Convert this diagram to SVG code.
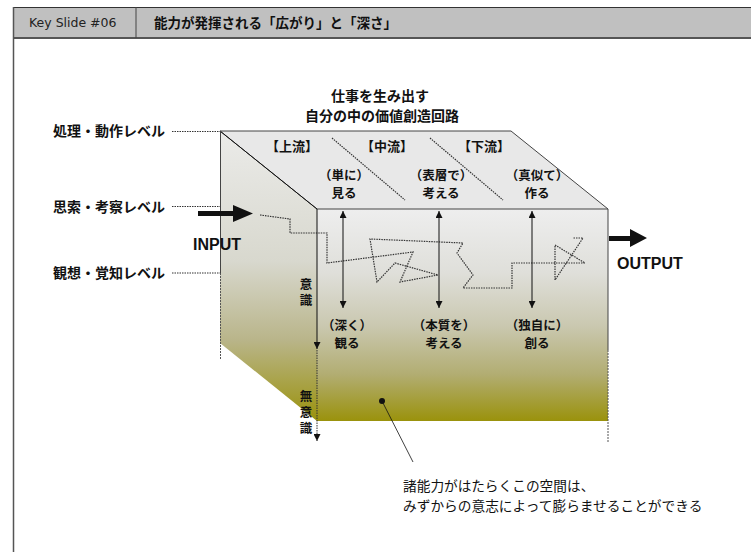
<svg xmlns="http://www.w3.org/2000/svg" width="751" height="552" viewBox="0 0 751 552">
<style>
.jp{font-family:"Liberation Sans","Noto Sans CJK JP",sans-serif;fill:#111}
.b{font-weight:bold}
.dot{fill:none;stroke:#333;stroke-width:1.2;stroke-dasharray:1.5 1}
.edge{fill:none;stroke:#444;stroke-width:1}
.ln{fill:none;stroke:#111;stroke-width:1}
</style>
<defs>
<linearGradient id="gFront" gradientUnits="userSpaceOnUse" x1="0" y1="209" x2="0" y2="421">
<stop offset="0" stop-color="#eeeeee"/>
<stop offset="0.3" stop-color="#dfdfda"/>
<stop offset="0.55" stop-color="#cac8b0"/>
<stop offset="0.78" stop-color="#b2ad72"/>
<stop offset="1" stop-color="#9a920c"/>
</linearGradient>
<linearGradient id="gLeft" gradientUnits="userSpaceOnUse" x1="0" y1="131" x2="0" y2="421">
<stop offset="0" stop-color="#ebebe9"/>
<stop offset="0.45" stop-color="#d8d8ce"/>
<stop offset="0.72" stop-color="#b9b58a"/>
<stop offset="1" stop-color="#9a920c"/>
</linearGradient>
<marker id="ah" viewBox="0 0 10 10" refX="10" refY="5" markerWidth="7" markerHeight="7" orient="auto-start-reverse" markerUnits="userSpaceOnUse">
<path d="M0,0 L10,5 L0,10 z" fill="#111"/>
</marker>
</defs>

<g id="header">
<rect x="13" y="7" width="738" height="31" fill="#c0c0c0"/>
<line x1="13" y1="7.5" x2="751" y2="7.5" stroke="#333" stroke-width="1"/>
<line x1="13" y1="38" x2="751" y2="38" stroke="#555" stroke-width="2"/>
<line x1="13.5" y1="7" x2="13.5" y2="552" stroke="#555" stroke-width="1.5"/>
<line x1="136" y1="7" x2="136" y2="38" stroke="#444" stroke-width="1"/>
<text x="29" y="27" font-family="DejaVu Sans,sans-serif" font-size="12.5" fill="#222">Key Slide #06</text>
<text x="154" y="28" class="jp b" font-size="13.5">能力が発揮される「広がり」と「深さ」</text>
</g>

<g id="title">
<text x="380" y="101" class="jp b" font-size="14" text-anchor="middle">仕事を生み出す</text>
<text x="382" y="121" class="jp b" font-size="14" text-anchor="middle">自分の中の価値創造回路</text>
</g>

<g id="cube">
<polygon points="220,131 317,209 317,421 220,343" fill="url(#gLeft)"/>
<polygon points="317,209 608,209 608,421 317,421" fill="url(#gFront)"/>
<polygon points="220,131 511,131 608,209 317,209" fill="#e8e8e8" stroke="#444" stroke-width="1"/>
<line x1="220" y1="131" x2="317" y2="209" stroke="#111" stroke-width="1"/>
<line x1="220.5" y1="131" x2="220.5" y2="273" class="edge"/>
<line x1="220.5" y1="273" x2="220.5" y2="360" stroke="#555" stroke-width="1" stroke-dasharray="2 1"/>
<line x1="608" y1="209" x2="608" y2="350" class="edge"/>
<line x1="608" y1="350" x2="608" y2="442" stroke="#555" stroke-width="1" stroke-dasharray="2 1"/>
<line x1="332" y1="138" x2="405" y2="200" class="dot" stroke-width="0.8"/>
<line x1="430" y1="138" x2="503" y2="200" class="dot" stroke-width="0.8"/>
</g>

<g id="levels">
<text x="53" y="136" class="jp b" font-size="14">処理・動作レベル</text>
<text x="53" y="212" class="jp b" font-size="14">思索・考察レベル</text>
<text x="53" y="278" class="jp b" font-size="14">観想・覚知レベル</text>
</g>

<g id="stream-labels">
<text x="292" y="151" class="jp b" font-size="13" text-anchor="middle">【上流】</text>
<text x="387" y="151" class="jp b" font-size="13" text-anchor="middle">【中流】</text>
<text x="484" y="151" class="jp b" font-size="13" text-anchor="middle">【下流】</text>
<text x="344" y="180" class="jp b" font-size="12.5" text-anchor="middle">（単に）</text>
<text x="344" y="198" class="jp b" font-size="12.5" text-anchor="middle">見る</text>
<text x="441" y="180" class="jp b" font-size="12.5" text-anchor="middle">（表層で）</text>
<text x="441" y="198" class="jp b" font-size="12.5" text-anchor="middle">考える</text>
<text x="537" y="180" class="jp b" font-size="12.5" text-anchor="middle">（真似て）</text>
<text x="537" y="198" class="jp b" font-size="12.5" text-anchor="middle">作る</text>
<text x="347" y="330" class="jp b" font-size="12.5" text-anchor="middle">（深く）</text>
<text x="347" y="348" class="jp b" font-size="12.5" text-anchor="middle">観る</text>
<text x="444" y="330" class="jp b" font-size="12.5" text-anchor="middle">（本質を）</text>
<text x="444" y="348" class="jp b" font-size="12.5" text-anchor="middle">考える</text>
<text x="537" y="330" class="jp b" font-size="12.5" text-anchor="middle">（独自に）</text>
<text x="537" y="348" class="jp b" font-size="12.5" text-anchor="middle">創る</text>
</g>

<g id="consciousness">
<text x="306" y="289" class="jp b" font-size="12.5" text-anchor="middle">意</text>
<text x="306" y="305" class="jp b" font-size="12.5" text-anchor="middle">識</text>
<text x="306" y="401" class="jp b" font-size="12.5" text-anchor="middle">無</text>
<text x="306" y="417" class="jp b" font-size="12.5" text-anchor="middle">意</text>
<text x="306" y="433" class="jp b" font-size="12.5" text-anchor="middle">識</text>
</g>

<g id="io">
<polygon points="198,211 233,211 233,205 253,213.5 233,222 233,216 198,216" fill="#111"/>
<text x="193" y="250" class="jp b" font-size="16">INPUT</text>
<polygon points="609,236 630,236 630,229 647,238 630,247 630,241 609,241" fill="#111"/>
<text x="617" y="269" class="jp b" font-size="16">OUTPUT</text>
</g>

<g id="note">
<circle cx="382" cy="401" r="3" fill="#111"/>
<line x1="382" y1="401" x2="413" y2="462" stroke="#111" stroke-width="0.8"/>
<text x="403" y="491" class="jp" font-size="13.7">諸能力がはたらくこの空間は、</text>
<text x="403" y="511" class="jp" font-size="13.7">みずからの意志によって膨らませることができる</text>
</g>

<g id="connectors">
<line x1="172" y1="131.5" x2="220" y2="131.5" class="dot"/>
<line x1="172" y1="206.5" x2="220" y2="206.5" class="dot"/>
<line x1="172" y1="273" x2="220" y2="273" class="dot"/>
<path d="M260,215 L290,219 L290,233 L327,233 L327,263 L413,252 L400,282 L438,275 L395,263 L377,282 L370,239 L463,243 L457,253 L473,275 L463,288 L512,288 L512,263 L585,263 L555,245 L555,280 L583,238 L573,238" class="dot"/>
<line x1="343" y1="211" x2="343" y2="308" class="ln" marker-start="url(#ah)" marker-end="url(#ah)"/>
<line x1="439" y1="211" x2="439" y2="308" class="ln" marker-start="url(#ah)" marker-end="url(#ah)"/>
<line x1="532" y1="211" x2="532" y2="308" class="ln" marker-start="url(#ah)" marker-end="url(#ah)"/>
<line x1="317" y1="209" x2="317" y2="349" class="ln" marker-end="url(#ah)"/>
<line x1="317" y1="350" x2="317" y2="441" stroke="#333" stroke-width="1" stroke-dasharray="1.5 1" marker-end="url(#ah)"/>
</g>
</svg>
